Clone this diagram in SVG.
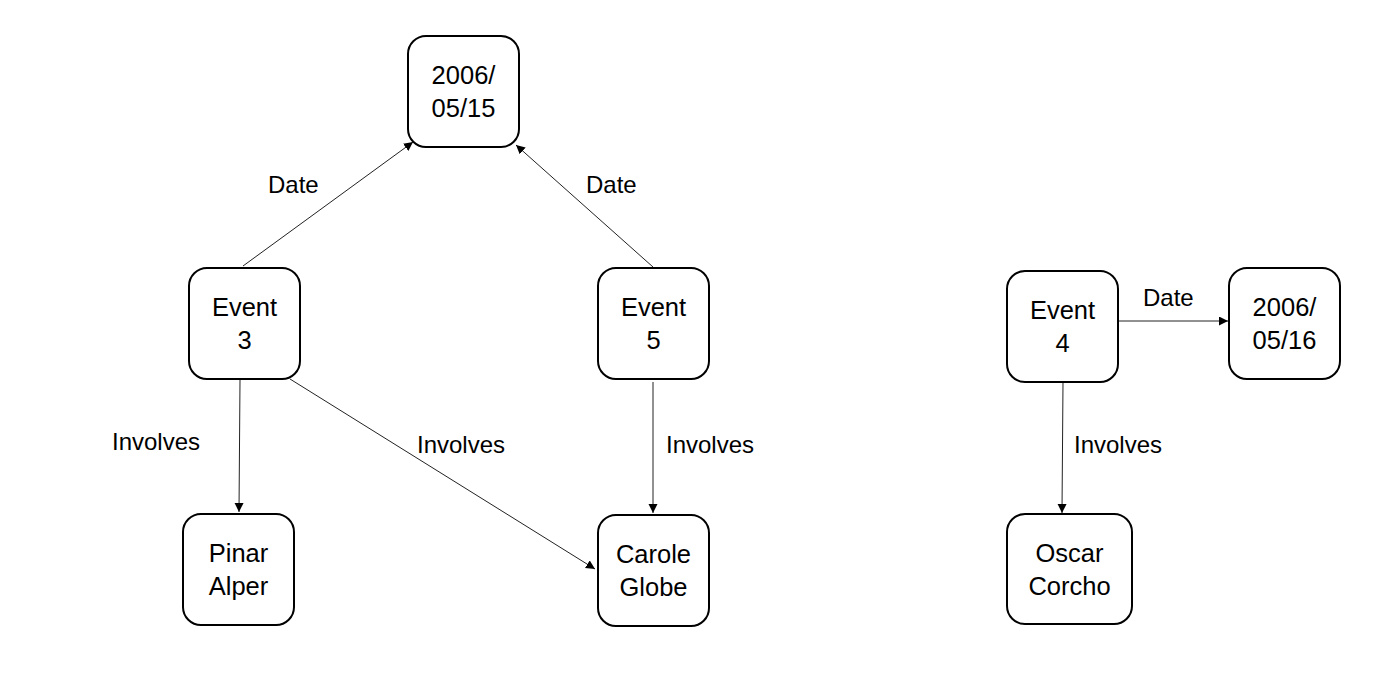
<svg xmlns="http://www.w3.org/2000/svg" width="1377" height="696" viewBox="0 0 1377 696">
<style>
.node rect{fill:#fff;stroke:#000;stroke-width:2}
text{font-family:"Liberation Sans",Arial,sans-serif;font-size:24px;fill:#000}
.node text{text-anchor:middle;font-size:25.5px}
.edge{stroke:#222;stroke-width:1;fill:none;marker-end:url(#arr)}
</style>
<defs>
<marker id="arr" markerUnits="userSpaceOnUse" markerWidth="10" markerHeight="10" refX="9" refY="4.5" orient="auto">
<path d="M0,0 L9,4.5 L0,9 Z" fill="#000"/>
</marker>
</defs>
<rect width="1377" height="696" fill="#fff"/>
<g id="connectors">
<line class="edge" x1="243" y1="266" x2="413" y2="142"/>
<text x="268" y="193">Date</text>
<line class="edge" x1="653" y1="267" x2="516" y2="145"/>
<text x="586" y="193">Date</text>
<line class="edge" x1="240" y1="380" x2="239" y2="512"/>
<text x="112" y="450">Involves</text>
<line class="edge" x1="290" y1="379" x2="595" y2="569"/>
<text x="417" y="453">Involves</text>
<line class="edge" x1="653" y1="382" x2="653" y2="513"/>
<text x="666" y="453">Involves</text>
<line class="edge" x1="1118" y1="321" x2="1228" y2="321"/>
<text x="1143" y="306">Date</text>
<line class="edge" x1="1063" y1="382" x2="1062" y2="513"/>
<text x="1074" y="453">Involves</text>
</g>
<g id="n-date15" class="node"><rect x="408" y="36" width="111" height="111" rx="18"/><text x="463.5" y="84">2006/</text><text x="463.5" y="117">05/15</text></g>
<g id="n-event3" class="node"><rect x="189" y="268" width="111" height="111" rx="18"/><text x="244.5" y="316">Event</text><text x="244.5" y="349">3</text></g>
<g id="n-event5" class="node"><rect x="598" y="268" width="111" height="111" rx="18"/><text x="653.5" y="316">Event</text><text x="653.5" y="349">5</text></g>
<g id="n-pinar" class="node"><rect x="183" y="514" width="111" height="111" rx="18"/><text x="238.5" y="562">Pinar</text><text x="238.5" y="595">Alper</text></g>
<g id="n-carole" class="node"><rect x="598" y="515" width="111" height="111" rx="18"/><text x="653.5" y="563">Carole</text><text x="653.5" y="596">Globe</text></g>
<g id="n-event4" class="node"><rect x="1007" y="271" width="111" height="111" rx="18"/><text x="1062.5" y="319">Event</text><text x="1062.5" y="352">4</text></g>
<g id="n-date16" class="node"><rect x="1229" y="268" width="111" height="111" rx="18"/><text x="1284.5" y="316">2006/</text><text x="1284.5" y="349">05/16</text></g>
<g id="n-oscar" class="node"><rect x="1007" y="514" width="125" height="110" rx="18"/><text x="1069.5" y="562">Oscar</text><text x="1069.5" y="595">Corcho</text></g>
</svg>
